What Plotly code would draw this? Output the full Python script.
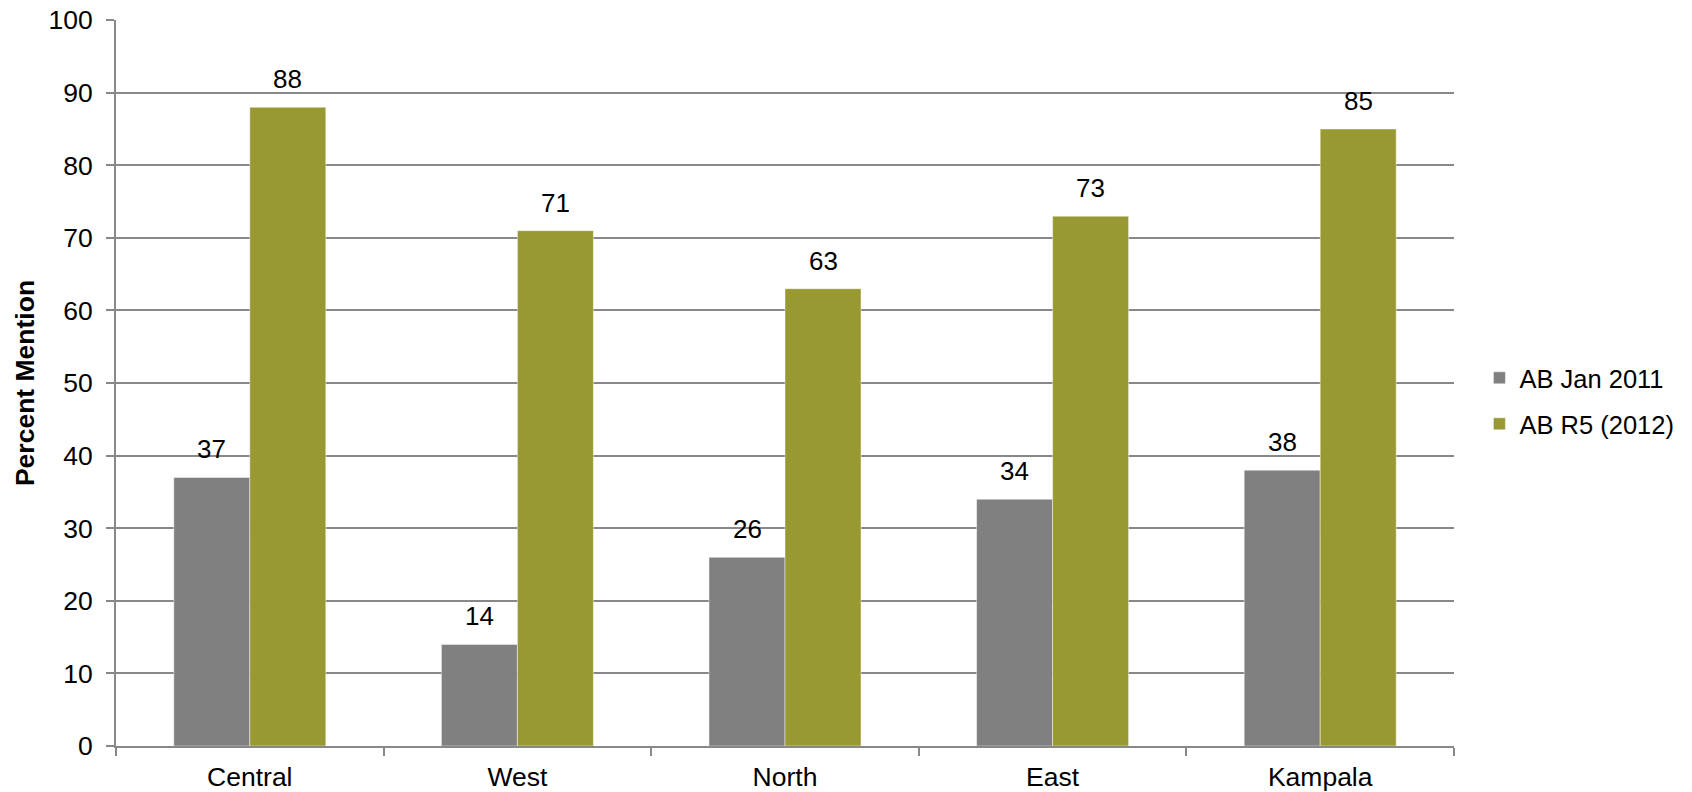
import plotly.graph_objects as go

categories = ["Central", "West", "North", "East", "Kampala"]
series_names = ["AB Jan 2011", "AB R5 (2012)"]
jan2011 = [37, 14, 26, 34, 38]
r5_2012 = [88, 71, 63, 73, 85]
colors = ["#808080", "#999933"]
y_ticks = list(range(0, 101, 10))

FONT = "Liberation Sans, Arial, sans-serif"

fig = go.Figure()
for name, vals, col, lg in zip(series_names, [jan2011, r5_2012], colors, ["legend", "legend2"]):
    fig.add_trace(go.Bar(
        name=name, x=categories, y=vals, legend=lg,
        marker=dict(color=col, line=dict(color="rgba(255,255,255,0.45)", width=1)),
    ))

annotations = []
for vals, shift in [(jan2011, -38), (r5_2012, 38)]:
    for c, v in zip(categories, vals):
        annotations.append(dict(
            x=c, y=v, text=str(v), showarrow=False, xshift=shift,
            yanchor="bottom", yshift=11,
            font=dict(family=FONT, size=26, color="#000000"),
        ))

legend_common = dict(x=1.019, xanchor="left", yanchor="middle",
                     font=dict(family=FONT, size=25.5, color="#000000"),
                     bgcolor="rgba(0,0,0,0)")

fig.update_layout(
    width=1692, height=792,
    margin=dict(l=115.5, r=238, t=19.5, b=46, autoexpand=False),
    paper_bgcolor="white", plot_bgcolor="white",
    barmode="group", bargap=0.432, bargroupgap=0,
    font=dict(family=FONT, size=26.5, color="#000000"),
    showlegend=True,
    legend=dict(y=0.5065, **legend_common),
    legend2=dict(y=0.4432, **legend_common),
    annotations=annotations,
    xaxis=dict(
        showline=True, linecolor="#888888", linewidth=2,
        ticks="outside", tickson="boundaries", ticklen=8, tickcolor="#888888", tickwidth=2,
        showgrid=False, ticklabelstandoff=6,
        tickfont=dict(family=FONT, size=26.5, color="#000000"),
    ),
    yaxis=dict(
        range=[0, 100.02], tickvals=y_ticks, ticktext=[str(t) for t in y_ticks],
        showline=True, linecolor="#888888", linewidth=2,
        ticks="outside", ticklen=8, tickcolor="#888888", tickwidth=2,
        showgrid=True, gridcolor="#888888", gridwidth=1.5,
        zeroline=False, ticklabelstandoff=8, ticklabeloverflow="allow",
        tickfont=dict(family=FONT, size=26.5, color="#000000"),
        title=dict(text="<b>Percent Mention</b>", standoff=6,
                   font=dict(family=FONT, size=26.5, color="#000000")),
    ),
)

fig.write_html("out.html", config={"displayModeBar": False},
               post_script="document.body.style.margin='0';")
